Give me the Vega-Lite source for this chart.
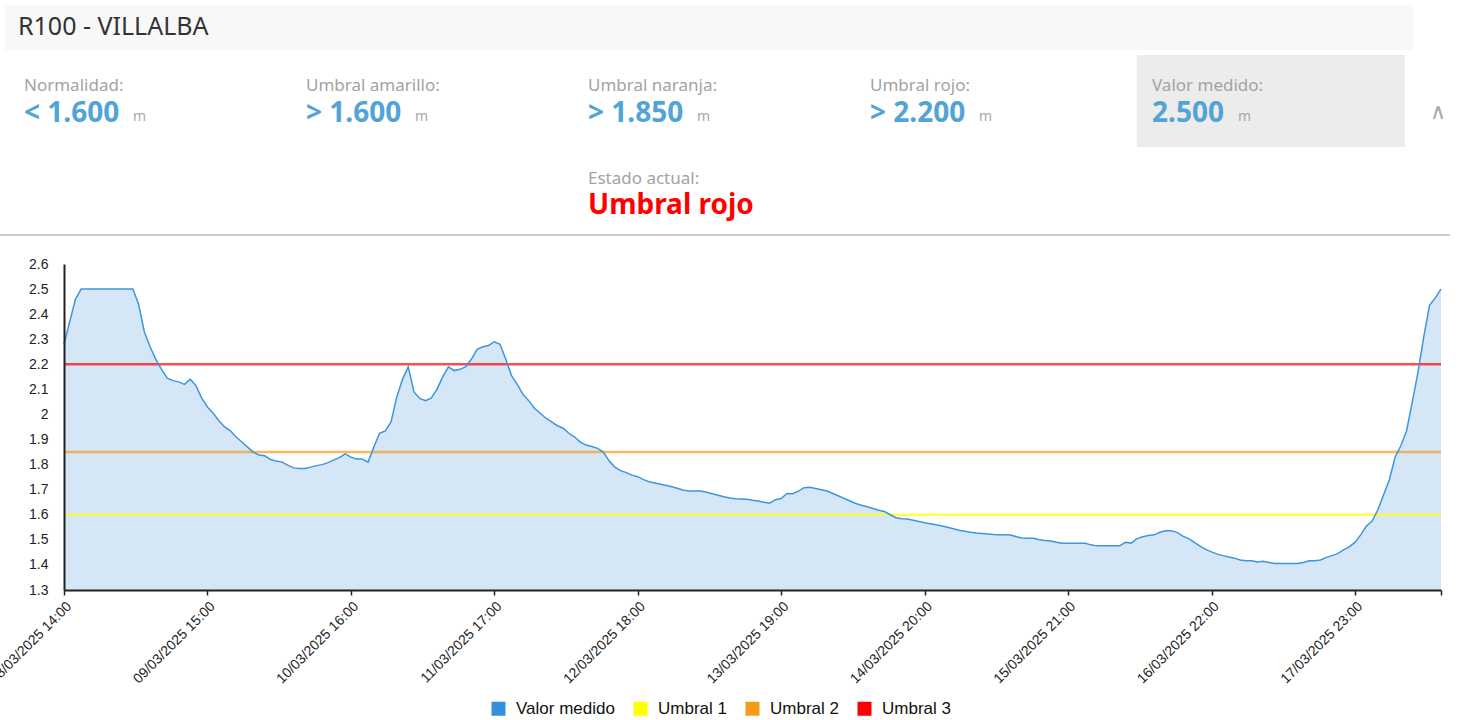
{
"$schema": "https://vega.github.io/schema/vega-lite/v6.json",
"autosize": {"type": "none"},
"padding": {"left": 64, "top": 5, "right": 1394, "bottom": 715},
"background": "white",
"bounds": "flush",
"spacing": 5,
"resolve": {"scale": {"color": "independent"}, "legend": {"color": "independent"}},
"config": {"view": {"stroke": null}, "font": "Liberation Sans", "axis": {"labelOverlap": false}},
"datasets": {
"medidas": [
{"t":"2025-03-08T14:00","v":2.28},{"t":"2025-03-08T15:00","v":2.37},{"t":"2025-03-08T16:00","v":2.46},{"t":"2025-03-08T17:00","v":2.5},{"t":"2025-03-08T18:00","v":2.5},{"t":"2025-03-08T19:00","v":2.5},{"t":"2025-03-08T20:00","v":2.5},{"t":"2025-03-08T21:00","v":2.5},{"t":"2025-03-08T22:00","v":2.5},{"t":"2025-03-08T23:00","v":2.5},
{"t":"2025-03-09T00:00","v":2.5},{"t":"2025-03-09T01:00","v":2.5},{"t":"2025-03-09T02:00","v":2.5},{"t":"2025-03-09T03:00","v":2.44},{"t":"2025-03-09T04:00","v":2.33},{"t":"2025-03-09T05:00","v":2.27},{"t":"2025-03-09T06:00","v":2.22},{"t":"2025-03-09T07:00","v":2.18},{"t":"2025-03-09T08:00","v":2.145},{"t":"2025-03-09T09:00","v":2.135},{"t":"2025-03-09T10:00","v":2.13},{"t":"2025-03-09T11:00","v":2.12},{"t":"2025-03-09T12:00","v":2.14},{"t":"2025-03-09T13:00","v":2.115},{"t":"2025-03-09T14:00","v":2.065},{"t":"2025-03-09T15:00","v":2.03},{"t":"2025-03-09T16:00","v":2.005},{"t":"2025-03-09T17:00","v":1.975},{"t":"2025-03-09T18:00","v":1.95},{"t":"2025-03-09T19:00","v":1.935},{"t":"2025-03-09T20:00","v":1.91},{"t":"2025-03-09T21:00","v":1.89},{"t":"2025-03-09T22:00","v":1.87},{"t":"2025-03-09T23:00","v":1.85},
{"t":"2025-03-10T00:00","v":1.838},{"t":"2025-03-10T01:00","v":1.835},{"t":"2025-03-10T02:00","v":1.82},{"t":"2025-03-10T03:00","v":1.814},{"t":"2025-03-10T04:00","v":1.81},{"t":"2025-03-10T05:00","v":1.798},{"t":"2025-03-10T06:00","v":1.787},{"t":"2025-03-10T07:00","v":1.785},{"t":"2025-03-10T08:00","v":1.785},{"t":"2025-03-10T09:00","v":1.79},{"t":"2025-03-10T10:00","v":1.796},{"t":"2025-03-10T11:00","v":1.8},{"t":"2025-03-10T12:00","v":1.808},{"t":"2025-03-10T13:00","v":1.818},{"t":"2025-03-10T14:00","v":1.828},{"t":"2025-03-10T15:00","v":1.843},{"t":"2025-03-10T16:00","v":1.83},{"t":"2025-03-10T17:00","v":1.822},{"t":"2025-03-10T18:00","v":1.822},{"t":"2025-03-10T19:00","v":1.81},{"t":"2025-03-10T20:00","v":1.87},{"t":"2025-03-10T21:00","v":1.925},{"t":"2025-03-10T22:00","v":1.934},{"t":"2025-03-10T23:00","v":1.97},
{"t":"2025-03-11T00:00","v":2.07},{"t":"2025-03-11T01:00","v":2.14},{"t":"2025-03-11T02:00","v":2.19},{"t":"2025-03-11T03:00","v":2.09},{"t":"2025-03-11T04:00","v":2.064},{"t":"2025-03-11T05:00","v":2.055},{"t":"2025-03-11T06:00","v":2.065},{"t":"2025-03-11T07:00","v":2.1},{"t":"2025-03-11T08:00","v":2.15},{"t":"2025-03-11T09:00","v":2.19},{"t":"2025-03-11T10:00","v":2.175},{"t":"2025-03-11T11:00","v":2.18},{"t":"2025-03-11T12:00","v":2.19},{"t":"2025-03-11T13:00","v":2.22},{"t":"2025-03-11T14:00","v":2.26},{"t":"2025-03-11T15:00","v":2.27},{"t":"2025-03-11T16:00","v":2.275},{"t":"2025-03-11T17:00","v":2.29},{"t":"2025-03-11T18:00","v":2.28},{"t":"2025-03-11T19:00","v":2.22},{"t":"2025-03-11T20:00","v":2.155},{"t":"2025-03-11T21:00","v":2.12},{"t":"2025-03-11T22:00","v":2.08},{"t":"2025-03-11T23:00","v":2.055},
{"t":"2025-03-12T00:00","v":2.025},{"t":"2025-03-12T01:00","v":2.005},{"t":"2025-03-12T02:00","v":1.985},{"t":"2025-03-12T03:00","v":1.97},{"t":"2025-03-12T04:00","v":1.955},{"t":"2025-03-12T05:00","v":1.945},{"t":"2025-03-12T06:00","v":1.925},{"t":"2025-03-12T07:00","v":1.91},{"t":"2025-03-12T08:00","v":1.89},{"t":"2025-03-12T09:00","v":1.878},{"t":"2025-03-12T10:00","v":1.872},{"t":"2025-03-12T11:00","v":1.865},{"t":"2025-03-12T12:00","v":1.85},{"t":"2025-03-12T13:00","v":1.815},{"t":"2025-03-12T14:00","v":1.79},{"t":"2025-03-12T15:00","v":1.776},{"t":"2025-03-12T16:00","v":1.768},{"t":"2025-03-12T17:00","v":1.758},{"t":"2025-03-12T18:00","v":1.752},{"t":"2025-03-12T19:00","v":1.74},{"t":"2025-03-12T20:00","v":1.732},{"t":"2025-03-12T21:00","v":1.727},{"t":"2025-03-12T22:00","v":1.722},{"t":"2025-03-12T23:00","v":1.717},
{"t":"2025-03-13T00:00","v":1.712},{"t":"2025-03-13T01:00","v":1.705},{"t":"2025-03-13T02:00","v":1.698},{"t":"2025-03-13T03:00","v":1.695},{"t":"2025-03-13T04:00","v":1.695},{"t":"2025-03-13T05:00","v":1.695},{"t":"2025-03-13T06:00","v":1.69},{"t":"2025-03-13T07:00","v":1.684},{"t":"2025-03-13T08:00","v":1.678},{"t":"2025-03-13T09:00","v":1.672},{"t":"2025-03-13T10:00","v":1.667},{"t":"2025-03-13T11:00","v":1.664},{"t":"2025-03-13T12:00","v":1.663},{"t":"2025-03-13T13:00","v":1.662},{"t":"2025-03-13T14:00","v":1.658},{"t":"2025-03-13T15:00","v":1.655},{"t":"2025-03-13T16:00","v":1.65},{"t":"2025-03-13T17:00","v":1.646},{"t":"2025-03-13T18:00","v":1.66},{"t":"2025-03-13T19:00","v":1.665},{"t":"2025-03-13T20:00","v":1.685},{"t":"2025-03-13T21:00","v":1.684},{"t":"2025-03-13T22:00","v":1.694},{"t":"2025-03-13T23:00","v":1.708},
{"t":"2025-03-14T00:00","v":1.71},{"t":"2025-03-14T01:00","v":1.705},{"t":"2025-03-14T02:00","v":1.7},{"t":"2025-03-14T03:00","v":1.695},{"t":"2025-03-14T04:00","v":1.685},{"t":"2025-03-14T05:00","v":1.675},{"t":"2025-03-14T06:00","v":1.665},{"t":"2025-03-14T07:00","v":1.655},{"t":"2025-03-14T08:00","v":1.645},{"t":"2025-03-14T09:00","v":1.638},{"t":"2025-03-14T10:00","v":1.632},{"t":"2025-03-14T11:00","v":1.625},{"t":"2025-03-14T12:00","v":1.618},{"t":"2025-03-14T13:00","v":1.613},{"t":"2025-03-14T14:00","v":1.6},{"t":"2025-03-14T15:00","v":1.588},{"t":"2025-03-14T16:00","v":1.584},{"t":"2025-03-14T17:00","v":1.583},{"t":"2025-03-14T18:00","v":1.578},{"t":"2025-03-14T19:00","v":1.573},{"t":"2025-03-14T20:00","v":1.568},{"t":"2025-03-14T21:00","v":1.564},{"t":"2025-03-14T22:00","v":1.56},{"t":"2025-03-14T23:00","v":1.555},
{"t":"2025-03-15T00:00","v":1.55},{"t":"2025-03-15T01:00","v":1.544},{"t":"2025-03-15T02:00","v":1.538},{"t":"2025-03-15T03:00","v":1.534},{"t":"2025-03-15T04:00","v":1.53},{"t":"2025-03-15T05:00","v":1.527},{"t":"2025-03-15T06:00","v":1.525},{"t":"2025-03-15T07:00","v":1.523},{"t":"2025-03-15T08:00","v":1.521},{"t":"2025-03-15T09:00","v":1.52},{"t":"2025-03-15T10:00","v":1.52},{"t":"2025-03-15T11:00","v":1.519},{"t":"2025-03-15T12:00","v":1.512},{"t":"2025-03-15T13:00","v":1.507},{"t":"2025-03-15T14:00","v":1.506},{"t":"2025-03-15T15:00","v":1.506},{"t":"2025-03-15T16:00","v":1.5},{"t":"2025-03-15T17:00","v":1.497},{"t":"2025-03-15T18:00","v":1.495},{"t":"2025-03-15T19:00","v":1.49},{"t":"2025-03-15T20:00","v":1.486},{"t":"2025-03-15T21:00","v":1.486},{"t":"2025-03-15T22:00","v":1.486},{"t":"2025-03-15T23:00","v":1.486},
{"t":"2025-03-16T00:00","v":1.486},{"t":"2025-03-16T01:00","v":1.48},{"t":"2025-03-16T02:00","v":1.476},{"t":"2025-03-16T03:00","v":1.476},{"t":"2025-03-16T04:00","v":1.476},{"t":"2025-03-16T05:00","v":1.476},{"t":"2025-03-16T06:00","v":1.476},{"t":"2025-03-16T07:00","v":1.49},{"t":"2025-03-16T08:00","v":1.487},{"t":"2025-03-16T09:00","v":1.505},{"t":"2025-03-16T10:00","v":1.512},{"t":"2025-03-16T11:00","v":1.517},{"t":"2025-03-16T12:00","v":1.52},{"t":"2025-03-16T13:00","v":1.53},{"t":"2025-03-16T14:00","v":1.536},{"t":"2025-03-16T15:00","v":1.536},{"t":"2025-03-16T16:00","v":1.53},{"t":"2025-03-16T17:00","v":1.515},{"t":"2025-03-16T18:00","v":1.505},{"t":"2025-03-16T19:00","v":1.49},{"t":"2025-03-16T20:00","v":1.475},{"t":"2025-03-16T21:00","v":1.462},{"t":"2025-03-16T22:00","v":1.452},{"t":"2025-03-16T23:00","v":1.443},
{"t":"2025-03-17T00:00","v":1.437},{"t":"2025-03-17T01:00","v":1.432},{"t":"2025-03-17T02:00","v":1.427},{"t":"2025-03-17T03:00","v":1.42},{"t":"2025-03-17T04:00","v":1.417},{"t":"2025-03-17T05:00","v":1.417},{"t":"2025-03-17T06:00","v":1.412},{"t":"2025-03-17T07:00","v":1.415},{"t":"2025-03-17T08:00","v":1.41},{"t":"2025-03-17T09:00","v":1.406},{"t":"2025-03-17T10:00","v":1.406},{"t":"2025-03-17T11:00","v":1.406},{"t":"2025-03-17T12:00","v":1.406},{"t":"2025-03-17T13:00","v":1.406},{"t":"2025-03-17T14:00","v":1.41},{"t":"2025-03-17T15:00","v":1.417},{"t":"2025-03-17T16:00","v":1.417},{"t":"2025-03-17T17:00","v":1.42},{"t":"2025-03-17T18:00","v":1.43},{"t":"2025-03-17T19:00","v":1.437},{"t":"2025-03-17T20:00","v":1.445},{"t":"2025-03-17T21:00","v":1.46},{"t":"2025-03-17T22:00","v":1.472},{"t":"2025-03-17T23:00","v":1.49},
{"t":"2025-03-18T00:00","v":1.52},{"t":"2025-03-18T01:00","v":1.555},{"t":"2025-03-18T02:00","v":1.575},{"t":"2025-03-18T03:00","v":1.62},{"t":"2025-03-18T04:00","v":1.68},{"t":"2025-03-18T05:00","v":1.74},{"t":"2025-03-18T06:00","v":1.83},{"t":"2025-03-18T07:00","v":1.875},{"t":"2025-03-18T08:00","v":1.935},{"t":"2025-03-18T09:00","v":2.05},{"t":"2025-03-18T10:00","v":2.17},{"t":"2025-03-18T11:00","v":2.31},{"t":"2025-03-18T12:00","v":2.435},{"t":"2025-03-18T13:00","v":2.465},{"t":"2025-03-18T14:00","v":2.5}
],
"umbrales": [{"serie":"Umbral 1","valor":1.6},{"serie":"Umbral 2","valor":1.85},{"serie":"Umbral 3","valor":2.2}],
"series": [{"serie":"Valor medido"},{"serie":"Umbral 1"},{"serie":"Umbral 2"},{"serie":"Umbral 3"}]
},
"vconcat": [
{
"width": 1349, "height": 45,
"data": {"values": [{"barra":"t","titulo":"R100 - VILLALBA"}]},
"layer": [
{"mark": {"type":"rect","fill":"#f8f8f8","width":1408},
 "encoding": {"x": {"field":"barra","type":"nominal","scale":{"type":"band","domain":["t"],"range":[-59,1349],"paddingInner":0,"paddingOuter":0},"axis":null}}},
{"mark": {"type":"text","align":"left","baseline":"alphabetic","dx":13,"dy":7.5,"font":"Noto Sans","fontSize":25,"fill":"#333333"},
 "encoding": {"x": {"field":"barra","type":"nominal","bandPosition":0,"scale":{"type":"band","domain":["t"],"range":[-59,1349],"paddingInner":0,"paddingOuter":0},"axis":null},"text":{"field":"titulo"}}}
]
},
{
"width": 1349, "height": 92,
"data": {"values": [
{"col":"c1","label":"Normalidad:","value":"< 1.600","unit":"m","destacado":false},
{"col":"c2","label":"Umbral amarillo:","value":"> 1.600","unit":"m","destacado":false},
{"col":"c3","label":"Umbral naranja:","value":"> 1.850","unit":"m","destacado":false},
{"col":"c4","label":"Umbral rojo:","value":"> 2.200","unit":"m","destacado":false},
{"col":"c5","label":"Valor medido:","value":"2.500","unit":"m","destacado":true}
]},
"layer": [
{"transform": [{"filter":"datum.destacado"}],
 "mark": {"type":"rect","fill":"#ececec","width":268},
 "encoding": {"x": {"field":"col","type":"nominal","scale":{"type":"band","domain":["c1","c2","c3","c4","c5","c6"],"range":[-55,1623],"paddingInner":0.0496,"paddingOuter":0},"axis":null}}},
{"mark": {"type":"text","align":"left","baseline":"alphabetic","dx":15,"dy":-10,"font":"Noto Sans","fontSize":17,"fill":"#a3a3a3"},
 "encoding": {"x": {"field":"col","type":"nominal","bandPosition":0,"scale":{"type":"band","domain":["c1","c2","c3","c4","c5","c6"],"range":[-55,1623],"paddingInner":0.0496,"paddingOuter":0},"axis":null},"text":{"field":"label"}}},
{"mark": {"type":"text","align":"left","baseline":"alphabetic","dx":15,"dy":21,"font":"Noto Sans","fontSize":28,"fontWeight":"bold","fill":"#52a3d6"},
 "encoding": {"x": {"field":"col","type":"nominal","bandPosition":0,"scale":{"type":"band","domain":["c1","c2","c3","c4","c5","c6"],"range":[-55,1623],"paddingInner":0.0496,"paddingOuter":0},"axis":null},"text":{"field":"value"}}},
{"transform": [{"calculate":"length(datum.value)","as":"nchar"}],
 "mark": {"type":"text","align":"left","baseline":"alphabetic","dy":20,"font":"Noto Sans","fontSize":14,"fill":"#a8a8a8"},
 "encoding": {"x": {"field":"col","type":"nominal","bandPosition":0,"scale":{"type":"band","domain":["c1","c2","c3","c4","c5","c6"],"range":[-55,1623],"paddingInner":0.0496,"paddingOuter":0},"axis":null},
  "xOffset": {"field":"nchar","type":"quantitative","scale":{"domain":[5,7],"range":[101,124]}},
  "text":{"field":"unit"}}},
{"data": {"values": [{"col":"c6","icono":"∧"}]},
 "mark": {"type":"text","align":"center","baseline":"middle","dx":19,"dy":11,"font":"DejaVu Sans","fontSize":22,"fill":"#aaaaaa"},
 "encoding": {"x": {"field":"col","type":"nominal","bandPosition":0,"scale":{"type":"band","domain":["c1","c2","c3","c4","c5","c6"],"range":[-55,1623],"paddingInner":0.0496,"paddingOuter":0},"axis":null},"text":{"field":"icono"}}}
]
},
{
"width": 1349, "height": 77,
"data": {"values": [{"col":"c3","label":"Estado actual:","value":"Umbral rojo"}]},
"layer": [
{"mark": {"type":"text","align":"left","baseline":"alphabetic","dx":15,"dy":-6.5,"font":"Noto Sans","fontSize":17,"fill":"#a3a3a3"},
 "encoding": {"x": {"field":"col","type":"nominal","bandPosition":0,"scale":{"type":"band","domain":["c1","c2","c3","c4","c5","c6"],"range":[-55,1623],"paddingInner":0.0496,"paddingOuter":0},"axis":null},"text":{"field":"label"}}},
{"mark": {"type":"text","align":"left","baseline":"alphabetic","dx":15,"dy":23,"font":"Noto Sans","fontSize":28,"fontWeight":"bold","fill":"#ff0000"},
 "encoding": {"x": {"field":"col","type":"nominal","bandPosition":0,"scale":{"type":"band","domain":["c1","c2","c3","c4","c5","c6"],"range":[-55,1623],"paddingInner":0.0496,"paddingOuter":0},"axis":null},"text":{"field":"value"}}}
]
},
{
"width": 1386, "height": 25,
"data": {"values": [{"linea":"sep"}]},
"mark": {"type":"rect","fill":"#c8cdd2","width":1450,"height":2},
"encoding": {
 "x": {"field":"linea","type":"nominal","scale":{"type":"band","range":[-64,1386],"paddingInner":0,"paddingOuter":0},"axis":null},
 "y": {"field":"linea","type":"nominal","scale":{"type":"band","range":[0,2],"paddingInner":0,"paddingOuter":0},"axis":null}
}
},
{
"width": 1377, "height": 326,
"layer": [
{"data": {"name":"medidas"},
 "mark": {"type":"area","fill":"#d5e7f7"},
 "encoding": {
  "x": {"field":"t","type":"temporal",
   "scale": {"domain":[{"year":2025,"month":3,"date":8,"hours":14},{"year":2025,"month":3,"date":18,"hours":14}]},
   "axis": {"title":null,"grid":false,"labelAngle":-45,"labelFlush":false,"labelOverlap":false,"labelBound":false,"zindex":1,
    "labelExpr":"datum.value >= time(datetime(2025, 2, 18, 14)) ? '' : timeFormat(datum.value, '%d/%m/%Y %H:%M')",
    "values":[{"year":2025,"month":3,"date":8,"hours":14},{"year":2025,"month":3,"date":9,"hours":15},{"year":2025,"month":3,"date":10,"hours":16},{"year":2025,"month":3,"date":11,"hours":17},{"year":2025,"month":3,"date":12,"hours":18},{"year":2025,"month":3,"date":13,"hours":19},{"year":2025,"month":3,"date":14,"hours":20},{"year":2025,"month":3,"date":15,"hours":21},{"year":2025,"month":3,"date":16,"hours":22},{"year":2025,"month":3,"date":17,"hours":23},{"year":2025,"month":3,"date":18,"hours":14}],
    "domainColor":"#222222","domainWidth":2,"tickColor":"#222222","tickSize":5,"tickWidth":1.5,
    "labelFont":"Liberation Sans","labelFontSize":14,"labelColor":"#222222","labelPadding":4}},
  "y": {"field":"v","type":"quantitative",
   "scale": {"domain":[1.3,2.6],"nice":false,"zero":false},
   "axis": {"title":null,"grid":false,"ticks":false,"format":"~g","labelOverlap":false,"labelBound":false,"labelFlush":false,"zindex":1,"tickCount":14,
    "values":[1.3,1.4,1.5,1.6,1.7,1.8,1.9,2,2.1,2.2,2.3,2.4,2.5,2.6],
    "domainColor":"#222222","domainWidth":2,
    "labelFont":"Liberation Sans","labelFontSize":14,"labelColor":"#222222","labelPadding":16}},
  "y2": {"datum": 1.3}
 }},
{"data": {"name":"umbrales"},
 "mark": {"type":"rule","strokeWidth":2.5,"strokeOpacity":0.7},
 "encoding": {
  "y": {"field":"valor","type":"quantitative"},
  "color": {"field":"serie","type":"nominal",
   "scale":{"domain":["Valor medido","Umbral 1","Umbral 2","Umbral 3"],"range":["#3390e0","#ffff00","#f39c1a","#ff0000"]},
   "legend": {"symbolOpacity":1}}
 }},
{"data": {"name":"medidas"},
 "mark": {"type":"line","stroke":"#3f95dc","strokeWidth":1.5},
 "encoding": {"x": {"field":"t","type":"temporal"},"y": {"field":"v","type":"quantitative"}}},
{"data": {"name":"series"},
 "mark": {"type":"point","filled":true,"shape":"square","opacity":0},
 "encoding": {
  "color": {"field":"serie","type":"nominal",
   "scale":{"domain":["Valor medido","Umbral 1","Umbral 2","Umbral 3"],"range":["#3390e0","#ffff00","#f39c1a","#ff0000"]},
   "legend": {"orient":"none","legendX":426,"legendY":436,"direction":"horizontal","title":null,
    "symbolType":"square","symbolSize":196,"symbolOpacity":1,"symbolStrokeWidth":0,
    "labelFont":"Liberation Sans","labelFontSize":17,"labelColor":"#111111","labelOffset":9,"columnPadding":17,"padding":0,"labelLimit":300}}
 }}
]
}
]
}
